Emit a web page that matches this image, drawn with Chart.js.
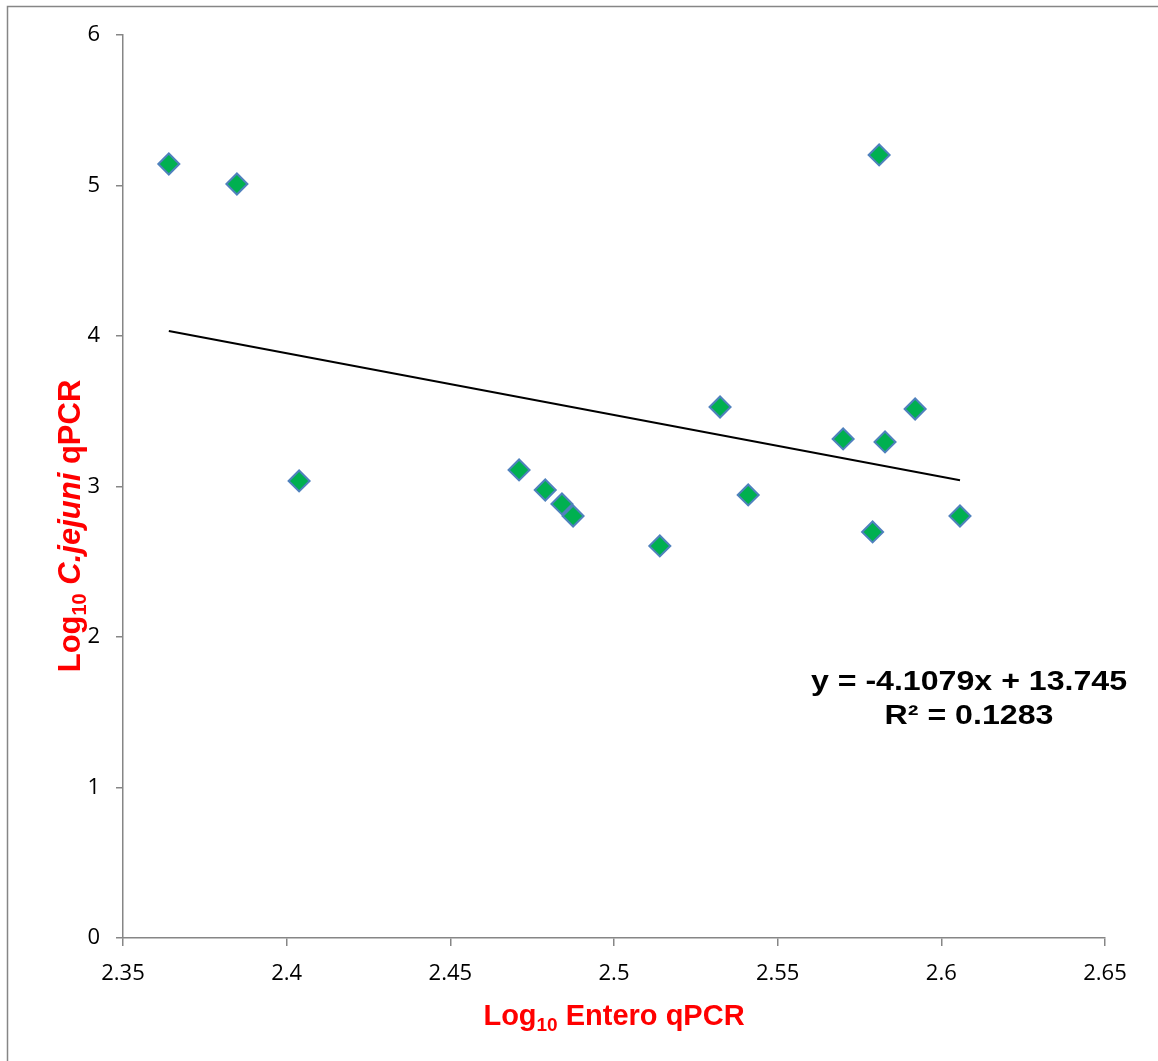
<!DOCTYPE html>
<html><head><meta charset="utf-8">
<script src="https://cdn.jsdelivr.net/npm/chart.js@4.4.1/dist/chart.umd.min.js"></script>
<style>html,body{margin:0;padding:0;background:#fff;overflow:hidden;} #wrap{position:relative;width:1158px;height:1061px;}</style>
</head><body><div id="wrap"><canvas id="c" width="1158" height="1061"></canvas></div>
<script>
// ---- data ----
const xValues = [2.364, 2.3848, 2.4038, 2.471, 2.479, 2.4841, 2.4875, 2.514, 2.5324, 2.541, 2.570, 2.579, 2.581, 2.5828, 2.592, 2.6057];
const yValues = [5.143, 5.010, 3.037, 3.110, 2.977, 2.884, 2.804, 2.605, 3.528, 2.944, 3.316, 2.698, 5.203, 3.296, 3.515, 2.804];
const trendSlope = -4.1079;
const trendIntercept = 13.745;
const equationLines = ['y = -4.1079x + 13.745', 'R\u00B2 = 0.1283'];
const xTitleRuns = [['Log', 'normal'], ['10', 'sub'], [' Entero qPCR', 'normal']];
const yTitleRuns = [['Log', 'normal'], ['10', 'sub'], [' ', 'normal'], ['C.jejuni', 'italic'], [' qPCR', 'normal']];

const points = xValues.map((x, i) => ({x: x, y: yValues[i]}));
const xMin = Math.min(...xValues), xMax = Math.max(...xValues);
const trend = [xMin, xMax].map(x => ({x: x, y: trendSlope * x + trendIntercept}));

const SANS = '"Liberation Sans", Arial, sans-serif';
function runFont(kind, size) {
  if (kind === 'sub') return 'bold ' + Math.round(size * 0.65) + 'px ' + SANS;
  if (kind === 'italic') return 'italic bold ' + size + 'px ' + SANS;
  return 'bold ' + size + 'px ' + SANS;
}
function drawRuns(ctx, runs, cx, cy, size, color) {
  ctx.fillStyle = color;
  ctx.textBaseline = 'alphabetic';
  ctx.textAlign = 'left';
  let total = 0;
  const widths = runs.map(r => { ctx.font = runFont(r[1], size); const w = ctx.measureText(r[0]).width; total += w; return w; });
  let x = cx - total / 2;
  runs.forEach((r, i) => {
    ctx.font = runFont(r[1], size);
    const dy = r[1] === 'sub' ? size * 0.2 : 0;
    ctx.fillText(r[0], x, cy + dy);
    x += widths[i];
  });
}

const decor = {
  id: 'decor',
  beforeDraw(chart) {
    const ctx = chart.ctx;
    ctx.save();
    ctx.fillStyle = '#fff';
    ctx.fillRect(0, 0, chart.width, chart.height);
    ctx.strokeStyle = '#868686';
    ctx.lineWidth = 1.5;
    ctx.beginPath();
    ctx.moveTo(7.5, chart.height);
    ctx.lineTo(7.5, 6.5);
    ctx.lineTo(chart.width, 6.5);
    ctx.stroke();
    ctx.restore();
  },
  afterDraw(chart) {
    const ctx = chart.ctx;
    const area = chart.chartArea;
    ctx.save();
    // x title
    drawRuns(ctx, xTitleRuns, (area.left + area.right) / 2, 1025, 29, '#ff0000');
    // y title
    ctx.save();
    ctx.translate(80, 526);
    ctx.rotate(-Math.PI / 2);
    drawRuns(ctx, yTitleRuns, 0, 0, 31, '#ff0000');
    ctx.restore();
    // equation (slightly wide lettering, as in the original)
    ctx.fillStyle = '#000';
    ctx.textAlign = 'center';
    ctx.textBaseline = 'alphabetic';
    ctx.font = 'bold 27px ' + SANS;
    ctx.save();
    ctx.translate(969, 0);
    ctx.scale(1.19, 1);
    ctx.fillText(equationLines[0], 0, 690);
    ctx.fillText(equationLines[1], 0, 724);
    ctx.restore();
    ctx.restore();
  }
};

new Chart(document.getElementById('c'), {
  type: 'scatter',
  data: {
    datasets: [
      {
        type: 'line',
        data: trend,
        borderColor: '#000000',
        borderWidth: 2,
        pointRadius: 0,
        fill: false,
        order: 2
      },
      {
        data: points,
        pointStyle: 'rectRot',
        pointRadius: 10.5,
        pointBorderWidth: 2,
        backgroundColor: '#00B050',
        borderColor: '#4F81BD',
        order: 1
      }
    ]
  },
  options: {
    responsive: false,
    animation: false,
    devicePixelRatio: 1,
    layout: {padding: {left: 0, top: 35, right: 53, bottom: 0}},
    plugins: {legend: {display: false}, tooltip: {enabled: false}, title: {display: false}},
    scales: {
      x: {
        type: 'linear',
        min: 2.35,
        max: 2.65,
        afterFit(s) { s.height = 123; },
        ticks: {
          stepSize: 0.05,
          color: '#000',
          padding: 15,
          font: {family: '"Open Sans"', size: 22},
          callback: v => String(parseFloat(Number(v).toFixed(2)))
        },
        grid: {drawOnChartArea: false, drawTicks: true, tickLength: 8, color: '#868686', lineWidth: 1.5},
        border: {display: true, color: '#868686', width: 1.5}
      },
      y: {
        type: 'linear',
        min: 0,
        max: 6,
        afterFit(s) { s.width = 123; },
        ticks: {
          stepSize: 1,
          color: '#000',
          padding: 16,
          font: {family: '"Open Sans"', size: 22},
          callback: v => String(v)
        },
        grid: {drawOnChartArea: false, drawTicks: true, tickLength: 7, color: '#868686', lineWidth: 1.5},
        border: {display: true, color: '#868686', width: 1.5}
      }
    }
  },
  plugins: [decor]
});
</script>
</body></html>
